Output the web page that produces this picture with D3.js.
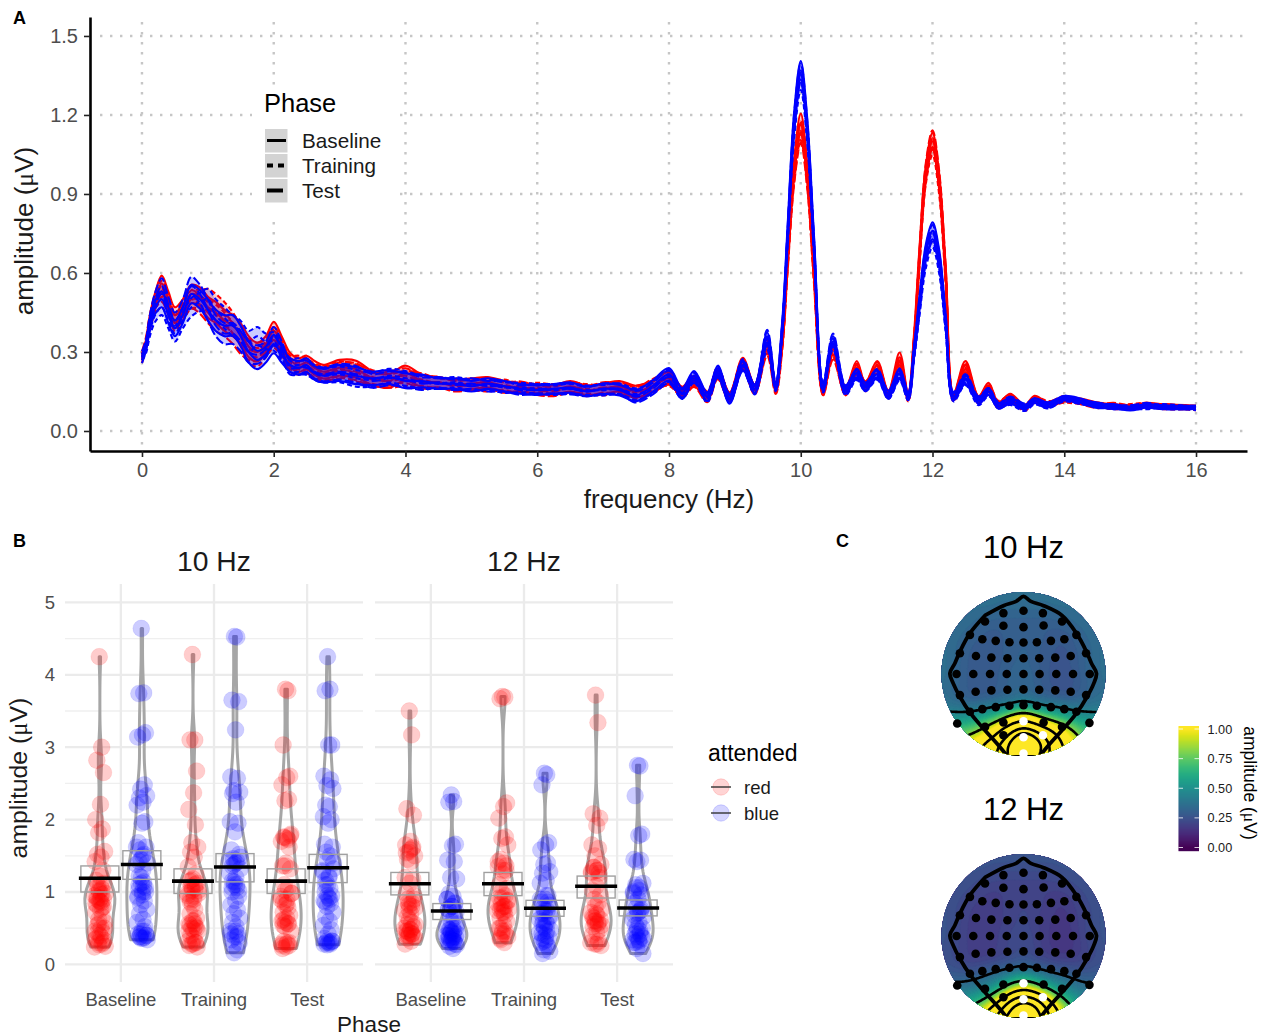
<!DOCTYPE html>
<html lang="en">
<head>
<meta charset="UTF-8">
<title>Spectra, amplitudes and topographies</title>
<script src="https://d3js.org/d3.v7.min.js"></script>
<style>
  html, body { margin: 0; background: #fff; }
  svg { display: block; font-family: "Liberation Sans", Arial, sans-serif; }
</style>
</head>
<body>
<svg id="fig" width="1264" height="1036"></svg>
<script>
// ---- panel A: spectra ----
const freqs = [0,.06,.12,.2,.3,.4,.5,.62,.75,.88,
  1,1.12,1.25,1.38,1.5,1.62,1.75,1.88,2,2.12,
  2.25,2.38,2.5,2.62,2.75,3,3.25,3.5,
  3.75,4,4.25,4.5,4.75,5,5.25,5.5,5.75,6,
  6.25,6.5,6.75,7,7.25,7.5,7.75,8,
  8.2,8.38,8.58,8.74,8.92,9.12,9.3,9.49,
  9.62,9.72,9.8,9.9,10,10.1,10.2,10.34,
  10.49,10.68,10.85,10.98,11.16,11.33,
  11.5,11.63,11.72,11.8,11.9,12,12.1,12.2,
  12.32,12.5,12.7,12.85,13,13.18,
  13.4,13.55,13.75,14,14.25,14.5,14.75,15,15.25,15.5,16];
const redBaseline = [.27,.33,.42,.50,.56,.50,.44,.47,.52,.51,
  .47,.45,.42,.40,.37,.32,.30,.33,.38,.33,
  .27,.25,.26,.24,.225,.24,.235,.20,
  .19,.22,.19,.185,.175,.18,.185,.17,.165,.16,
  .155,.17,.155,.16,.17,.15,.17,.20,
  .15,.19,.13,.22,.13,.26,.16,.33,
  .165,.35,.65,1.0,1.17,.98,.62,.15,
  .31,.15,.25,.17,.25,.14,
  .28,.13,.35,.66,.98,1.10,.95,.6,
  .13,.25,.12,.17,.10,.13,
  .09,.125,.10,.12,.115,.10,.095,.09,.10,.095,.09];
const redTraining = [.28,.32,.40,.48,.54,.49,.42,.45,.50,.50,
  .50,.48,.45,.41,.36,.30,.28,.31,.35,.31,
  .26,.26,.25,.23,.22,.235,.22,.205,
  .19,.20,.195,.18,.18,.175,.17,.175,.16,.165,
  .16,.165,.16,.155,.165,.145,.175,.195,
  .15,.195,.135,.225,.125,.255,.155,.32,
  .16,.34,.64,.98,1.14,.96,.6,.155,
  .30,.15,.24,.165,.245,.135,
  .26,.125,.33,.64,.97,1.08,.93,.58,
  .125,.235,.115,.165,.105,.125,
  .085,.12,.105,.115,.11,.10,.09,.095,.10,.09,.09];
const redTest = [.29,.34,.42,.49,.52,.47,.41,.46,.50,.48,
  .45,.42,.40,.37,.33,.31,.30,.32,.36,.32,
  .25,.24,.245,.225,.215,.23,.225,.195,
  .20,.21,.185,.185,.17,.175,.18,.165,.17,.155,
  .15,.165,.15,.165,.16,.15,.165,.205,
  .145,.185,.125,.215,.13,.25,.16,.31,
  .155,.33,.63,.97,1.13,.95,.59,.15,
  .29,.155,.23,.175,.235,.14,
  .25,.13,.34,.65,.99,1.11,.96,.6,
  .13,.24,.12,.16,.095,.125,
  .09,.115,.1,.125,.11,.095,.1,.09,.095,.095,.085];
const blueBaseline = [.27,.32,.41,.47,.50,.44,.39,.44,.52,.50,
  .46,.42,.40,.40,.36,.30,.27,.29,.33,.29,
  .25,.24,.25,.22,.21,.22,.21,.20,
  .205,.19,.19,.18,.18,.17,.18,.17,.16,.155,
  .16,.165,.15,.16,.155,.135,.17,.215,
  .145,.21,.13,.23,.12,.25,.16,.35,
  .17,.40,.75,1.18,1.37,1.15,.72,.165,
  .34,.155,.22,.17,.215,.14,
  .22,.135,.30,.48,.68,.76,.66,.42,
  .13,.195,.115,.15,.095,.115,
  .09,.115,.10,.125,.115,.095,.095,.085,.095,.09,.09];
const blueTraining = [.28,.31,.38,.44,.47,.42,.37,.42,.47,.49,
  .50,.46,.43,.40,.38,.34,.36,.34,.34,.30,
  .25,.25,.24,.22,.21,.215,.20,.195,
  .21,.20,.185,.18,.185,.175,.175,.165,.165,.16,
  .155,.16,.155,.155,.16,.14,.165,.21,
  .14,.205,.125,.225,.125,.255,.155,.33,
  .165,.385,.72,1.14,1.33,1.12,.70,.16,
  .33,.15,.21,.165,.21,.135,
  .21,.13,.29,.46,.65,.73,.63,.40,
  .125,.19,.11,.145,.10,.11,
  .085,.11,.095,.12,.11,.1,.09,.09,.09,.095,.085];
const blueTest = [.29,.33,.42,.50,.55,.48,.42,.47,.55,.52,
  .46,.40,.37,.37,.34,.30,.29,.31,.36,.31,
  .24,.24,.24,.225,.215,.225,.215,.19,
  .20,.195,.18,.185,.175,.18,.17,.17,.155,.16,
  .16,.16,.15,.16,.16,.13,.16,.205,
  .14,.20,.13,.22,.125,.245,.16,.36,
  .17,.39,.74,1.17,1.36,1.14,.71,.17,
  .35,.16,.215,.165,.22,.135,
  .215,.13,.30,.47,.67,.75,.65,.41,
  .135,.20,.12,.15,.095,.12,
  .095,.115,.095,.125,.11,.1,.09,.09,.1,.09,.09];
const seBand = [.012,.015,.02,.025,.03,.03,.03,.03,.035,.035,
  .04,.04,.04,.04,.038,.04,.035,.03,.035,.03,
  .026,.026,.026,.026,.026,.03,.032,.026,
  .026,.028,.024,.02,.02,.02,.02,.02,.018,.018,
  .018,.02,.018,.02,.02,.022,.022,.024,
  .018,.018,.016,.018,.016,.018,.016,.024,
  .014,.02,.026,.032,.035,.032,.026,.014,
  .02,.014,.016,.014,.016,.013,
  .018,.013,.02,.026,.03,.032,.03,.024,
  .013,.016,.012,.013,.01,.011,
  .009,.009,.009,.008,.008,.008,.007,.007,.007,.007,.006];
const freqTicks = [0,2,4,6,8,10,12,14,16];
const ampTicks = [0,.3,.6,.9,1.2,1.5];
const phases = ["Baseline","Training","Test"];
const phaseDash = {Baseline: null, Training: "5 3", Test: "9 3"};

// ---- panel B: single participant amplitudes ----
const attended = ["red","blue"];
const r10Baseline = [4.25,3.0,2.82,2.65,2.21,2.0,1.87,1.82,1.56,1.52,1.48,1.42,1.3,1.22,1.16,1.12,1.08,1.04,1.0,.98,.95,.92,.9,.88,.85,.82,.8,.76,.72,.66,.62,.58,.54,.5,.46,.44,.4,.36,.33,.3,.28,.27,.25,.24,1.1,1.06,1.02,.97,.93,.9,.86,.84,.78,.56,.5,.44,.38,.34,.3];
const b10Baseline = [4.64,3.75,3.74,3.2,3.17,3.14,2.48,2.42,2.33,2.3,2.24,2.2,1.97,1.95,1.68,1.62,1.58,1.52,1.45,1.4,1.38,1.3,1.22,1.2,1.14,1.1,1.06,1.0,.94,.88,.82,.76,.7,.62,.58,.52,.46,.42,.4,.38,.37,.36,.34,1.62,1.5,1.42,1.12,1.08,1.04,1.0,.96,.92,.46,.42,.4,.38,.36];
const r10Training = [4.28,3.1,3.1,2.67,2.37,2.14,1.93,1.68,1.62,1.55,1.48,1.35,1.25,1.18,1.15,1.12,1.08,1.05,1.02,.98,.95,.9,.86,.82,.76,.7,.64,.6,.56,.52,.5,.46,.4,.36,.32,.3,.28,.26,.24,1.16,1.1,1.06,1.02,.98,.94,.9,.6,.56,.54,.5,.48,.46,.3,.28];
const b10Training = [4.53,4.52,3.65,3.63,3.24,2.59,2.57,2.4,2.38,2.36,2.24,1.97,1.95,1.83,1.58,1.52,1.46,1.42,1.38,1.32,1.26,1.2,1.15,1.1,1.06,1.0,.94,.88,.82,.76,.7,.64,.58,.52,.46,.42,.38,.34,.3,.26,.2,.16,1.48,1.44,1.4,1.36,1.14,1.1,1.06,1.02,.46,.42,.38];
const r10Test = [3.8,3.78,3.03,2.6,2.58,2.48,2.28,2.26,1.8,1.76,1.74,1.7,1.62,1.4,1.36,1.32,1.1,1.06,1.02,.98,.94,.9,.86,.82,.78,.72,.68,.64,.6,.56,.52,.46,.32,.3,.28,.26,.24,.22,1.78,1.75,1.72,1.36,.98,.9,.84,.62,.58,.56,.54,.3,.28,.26];
const b10Test = [4.25,3.8,3.78,3.03,3.03,2.6,2.55,2.47,2.43,2.2,2.18,2.04,2.0,1.95,1.66,1.62,1.55,1.5,1.44,1.4,1.3,1.22,1.16,1.1,1.05,1.0,.95,.92,.88,.84,.8,.72,.66,.6,.54,.48,.42,.36,.32,.3,.28,.27,1.32,1.28,1.2,1.1,.95,.9,.86,.32,.3,.28,.3,.32];
const r12Baseline = [3.5,3.17,2.15,2.06,1.7,1.65,1.6,1.55,1.5,1.45,1.42,1.2,1.18,1.12,.98,.95,.9,.85,.82,.78,.75,.7,.66,.62,.58,.55,.52,.48,.46,.42,.4,.38,.36,.32,.28,1.62,1.58,1.54,.9,.85,.8,.76,.55,.5,.48,.46,.44,.42,.4,.38];
const b12Baseline = [2.34,2.25,2.24,1.66,1.64,1.44,1.42,1.2,1.18,.98,.94,.9,.85,.8,.76,.72,.68,.64,.6,.56,.52,.5,.48,.45,.42,.4,.38,.36,.34,.32,.3,.27,.25,.22,.9,.84,.8,.76,.5,.48,.46,.44,.42,.4,.38,.36,.34,.32,.3,.28];
const r12Training = [3.7,3.69,3.67,2.23,2.18,2.02,1.76,1.74,1.65,1.45,1.4,1.35,1.3,1.25,1.1,1.05,1.0,.95,.92,.88,.84,.8,.76,.72,.68,.64,.6,.55,.5,.46,.42,.38,.34,.3,1.42,1.36,1.3,.92,.88,.84,.8,.78,.76,.74,.72,.5,.46,.42,.36];
const b12Training = [2.64,2.62,2.48,1.68,1.65,1.58,1.4,1.38,1.28,1.26,1.16,1.12,.95,.9,.86,.82,.78,.74,.7,.66,.62,.58,.55,.5,.46,.42,.38,.34,.3,.25,.2,.18,.15,.95,.9,.86,.74,.7,.66,.6,.56,.52,.48,.44,.4,.36,.32,.28];
const r12Test = [3.72,3.34,2.08,2.02,1.92,1.65,1.6,1.5,1.38,1.34,1.3,1.26,1.2,1.08,1.02,.96,.9,.85,.8,.76,.72,.68,.64,.6,.56,.52,.48,.44,.4,.32,.28,.26,1.34,1.3,1.28,1.26,.7,.66,.62,.6,.58,.56,.54,.3,.28];
const b12Test = [2.75,2.74,2.33,1.8,1.78,1.45,1.44,1.42,1.12,1.1,1.06,1.0,.96,.9,.85,.8,.78,.74,.7,.66,.62,.58,.54,.5,.46,.42,.38,.34,.3,.27,.22,.15,1.06,1.02,.98,.76,.72,.68,.5,.46,.42,.38,.36,.34,.32,.3];
// mean and mean +/- se, order: 10 Hz r/b per phase, then 12 Hz
const groupMeans = [1.19,1.38,1.15,1.345,1.15,1.335, 1.115,.737,1.115,.775,1.08,.78];
const groupHigh  = [1.36,1.57,1.32,1.53,1.32,1.52, 1.27,.84,1.27,.885,1.22,.89];
const groupLow   = [1.0,1.175,.98,1.14,.98,1.13, .96,.62,.95,.665,.917,.67];
// horizontal jitter as a fraction of the jitter width, repeats per group
const jitterShare = [-.1,.3,-.5,.6,.1,-.7,.4,-.2,.8,-.4,.2,-.8,.5,0,-.6,.7,-.3,.35,-.15,.9,-.9,.15,-.45];
const amplitudeTicks = [0,1,2,3,4,5];
const minorTicks = [.5,1.5,2.5,3.5,4.5];

// ---- panel C: topographies, rows from front (+1) to back (-1), step .125 ----
const grid10 = [
  [.37,.37,.37,.37,.37,.37,.37,.37,.37,.37,.37,.37,.37,.37,.37,.37,.37],
  [.37,.37,.37,.37,.37,.37,.36,.36,.36,.36,.36,.37,.37,.37,.37,.37,.37],
  [.37,.37,.37,.36,.35,.34,.33,.33,.33,.33,.33,.34,.35,.36,.37,.37,.37],
  [.37,.37,.36,.34,.32,.31,.31,.31,.31,.31,.31,.31,.32,.34,.36,.37,.37],
  [.37,.36,.34,.32,.30,.29,.30,.31,.31,.31,.30,.29,.29,.31,.34,.36,.37],
  [.37,.35,.33,.30,.29,.29,.30,.31,.32,.31,.30,.28,.28,.30,.33,.35,.37],
  [.37,.35,.32,.29,.28,.29,.30,.31,.33,.31,.29,.28,.27,.29,.32,.35,.37],
  [.37,.35,.31,.29,.28,.29,.30,.32,.33,.31,.29,.27,.27,.29,.32,.35,.37],
  [.37,.35,.31,.29,.28,.29,.31,.33,.34,.32,.29,.27,.26,.28,.32,.35,.37],
  [.36,.34,.31,.29,.28,.29,.31,.33,.34,.32,.29,.27,.26,.28,.31,.34,.36],
  [.37,.34,.31,.29,.29,.30,.32,.34,.36,.33,.31,.29,.28,.29,.32,.35,.37],
  [.40,.38,.36,.35,.37,.40,.42,.45,.50,.45,.41,.40,.38,.37,.38,.39,.40],
  [.48,.48,.48,.50,.54,.60,.70,.84,.95,.84,.70,.62,.56,.50,.48,.47,.47],
  [.60,.62,.64,.68,.76,.90,1.1,1.4,1.6,1.4,1.15,1.0,.85,.72,.62,.58,.55],
  [.72,.76,.80,.88,1.0,1.2,1.6,2.1,2.5,2.2,1.8,1.4,1.1,.9,.75,.68,.62],
  [.9,.95,1.0,1.1,1.3,1.6,2.0,2.4,2.7,2.5,2.1,1.6,1.25,1.0,.85,.75,.7],
  [1.0,1.05,1.1,1.2,1.4,1.7,2.0,2.3,2.5,2.3,2.0,1.6,1.3,1.1,.95,.85,.8]
];
const grid12 = [
  [.27,.27,.27,.27,.27,.27,.27,.27,.27,.27,.27,.27,.27,.27,.27,.27,.27],
  [.27,.27,.27,.27,.27,.26,.26,.26,.26,.26,.26,.26,.27,.27,.27,.27,.27],
  [.27,.27,.27,.26,.25,.24,.23,.23,.23,.23,.23,.24,.25,.26,.27,.27,.27],
  [.27,.27,.26,.24,.22,.21,.21,.21,.21,.21,.21,.21,.22,.24,.26,.27,.27],
  [.27,.26,.24,.22,.20,.19,.20,.21,.21,.21,.20,.19,.19,.21,.24,.26,.27],
  [.27,.25,.23,.20,.19,.19,.20,.21,.22,.21,.20,.18,.18,.20,.23,.25,.27],
  [.27,.25,.22,.19,.18,.19,.20,.21,.23,.21,.19,.18,.17,.19,.22,.25,.27],
  [.27,.25,.21,.19,.18,.19,.20,.22,.23,.21,.19,.17,.17,.19,.22,.25,.27],
  [.27,.25,.21,.19,.18,.19,.21,.23,.24,.22,.19,.17,.16,.18,.22,.25,.27],
  [.26,.24,.21,.19,.18,.19,.21,.23,.24,.22,.19,.17,.16,.18,.21,.24,.26],
  [.26,.24,.21,.19,.19,.20,.22,.24,.26,.23,.21,.19,.18,.19,.21,.24,.26],
  [.27,.26,.24,.23,.25,.27,.29,.31,.33,.31,.28,.26,.25,.24,.24,.26,.27],
  [.31,.30,.30,.31,.34,.38,.44,.52,.58,.52,.44,.39,.35,.32,.30,.30,.30],
  [.38,.38,.38,.40,.44,.52,.66,.84,.95,.84,.68,.56,.47,.40,.37,.36,.35],
  [.48,.48,.50,.54,.62,.78,1.05,1.4,1.6,1.45,1.15,.85,.66,.52,.45,.42,.40],
  [.6,.62,.66,.74,.9,1.15,1.5,2.0,2.3,2.1,1.6,1.15,.85,.66,.55,.48,.45],
  [.72,.76,.82,.92,1.1,1.4,1.8,2.2,2.4,2.2,1.8,1.3,1.0,.78,.62,.55,.5]
];
const contourLevels10 = [.45,.85,1.3,1.8,2.15];
const contourLevels12 = [.34,.7,1.1,1.5,1.9];
// electrode layout and head outline, head radius = 245 units
const elecX = [-60,0,58,-115,115,-60,0,60,-160,158,-123,-83,-42,0,40,82,122,-190,187,-142,-96,-48,0,47,95,141,-200,-150,-100,-50,0,48,98,148,198,-190,187,-143,-96,-48,0,47,95,141,-123,-83,-42,0,40,82,122,-160,158,-115,115,-60,60,-198,197,-60];
const elecY = [182,189,182,157,157,144,140,145,117,117,104,99,95,94,95,99,104,62,62,54,49,47,47,47,49,54,0,0,0,0,0,0,0,0,0,-63,-63,-53,-49,-47,-46,-47,-49,-53,-105,-99,-95,-93,-95,-99,-105,-113,-113,-158,-158,-145,-145,-148,-146,-183];
const whiteX = [0,58,0,0];
const whiteY = [-141,-183,-189,-238];
const headX = [-115,-60,-22,0,22,60,115,158,188,203,218,210,190,158,120,75,50];
const headY = [175,204,217,232,217,204,175,122,67,32,2,-28,-68,-118,-163,-213,-243];
const headBackX = [-50,-75,-120,-158,-190,-210,-220,-205,-190,-160,-115];
const headBackY = [-243,-213,-163,-118,-68,-28,2,32,67,122,175];
const barTicks = [0,.25,.5,.75,1];

const grey = "#4d4d4d";
const svg = d3.select("#fig");
const muText = (sel, label) => {
  sel.append("tspan").text(label + " (");
  sel.append("tspan").attr("font-family", "Liberation Serif").text("μ");
  sel.append("tspan").text("V)");
};
const styleTicks = (g, size) => g.selectAll("text")
  .attr("font-size", size).attr("fill", grey).attr("font-family", "Liberation Sans");

// ---------- A ----------
const xA = d3.scaleLinear().domain([-.789, 16.774]).range([90, 1247]);
const yA = d3.scaleLinear().domain([-.076, 1.572]).range([451, 17]);
const gA = svg.append("g");

const gridDots = {stroke: "#c6c6c6", width: 2.4, dash: "2.4 7.6"};
gA.append("g").selectAll("line").data(ampTicks).join("line")
  .attr("x1", 100).attr("x2", 1247)
  .attr("y1", d => yA(d)).attr("y2", d => yA(d))
  .attr("stroke", gridDots.stroke).attr("stroke-width", gridDots.width).attr("stroke-dasharray", gridDots.dash);
gA.append("g").selectAll("line").data(freqTicks).join("line")
  .attr("x1", d => xA(d)).attr("x2", d => xA(d))
  .attr("y1", 22).attr("y2", 451)
  .attr("stroke", gridDots.stroke).attr("stroke-width", gridDots.width).attr("stroke-dasharray", gridDots.dash);

const lineA = d3.line().curve(d3.curveCatmullRom.alpha(.5));
const spectra = [
  {colour: "#ff0000", phase: "Baseline", vals: redBaseline},
  {colour: "#ff0000", phase: "Training", vals: redTraining},
  {colour: "#ff0000", phase: "Test", vals: redTest},
  {colour: "#0000ff", phase: "Baseline", vals: blueBaseline},
  {colour: "#0000ff", phase: "Training", vals: blueTraining},
  {colour: "#0000ff", phase: "Test", vals: blueTest}
];
spectra.forEach(s => {
  const g = gA.append("g");
  const area = d3.area().curve(d3.curveCatmullRom.alpha(.5))
    .x((d, i) => xA(freqs[i]))
    .y0((d, i) => yA(d - seBand[i]))
    .y1((d, i) => yA(d + seBand[i]));
  g.append("path").attr("d", area(s.vals)).attr("fill", s.colour).attr("fill-opacity", .2);
  [-1, 0, 1].forEach(side => {
    g.append("path")
      .attr("d", lineA(s.vals.map((d, i) => [xA(freqs[i]), yA(d + side * seBand[i])])))
      .attr("fill", "none").attr("stroke", s.colour).attr("stroke-width", 2.1)
      .attr("stroke-dasharray", phaseDash[s.phase]);
  });
});

const axLeftA = gA.append("g").attr("transform", "translate(90,0)")
  .call(d3.axisLeft(yA).tickValues(ampTicks).tickFormat(d3.format(".1f")).tickSize(6).tickSizeOuter(0));
const axBottomA = gA.append("g").attr("transform", "translate(0,451)")
  .call(d3.axisBottom(xA).tickValues(freqTicks).tickSize(6).tickSizeOuter(0));
[axLeftA, axBottomA].forEach(a => {
  a.select(".domain").attr("stroke", "#000").attr("stroke-width", 2.6);
  a.selectAll("line").attr("stroke", "#222").attr("stroke-width", 1.6);
  styleTicks(a, 20);
});
axLeftA.selectAll("text").attr("x", -12);
axBottomA.selectAll("text").attr("y", 12);

gA.append("text").attr("x", 669).attr("y", 508).attr("text-anchor", "middle")
  .attr("font-size", 26).attr("fill", "#1a1a1a").text("frequency (Hz)");
gA.append("text").attr("transform", "translate(33,231) rotate(-90)").attr("text-anchor", "middle")
  .attr("font-size", 26).attr("fill", "#1a1a1a").call(muText, "amplitude");

// legend of the line types
const legA = gA.append("g");
legA.append("rect").attr("x", 252).attr("y", 85).attr("width", 145).attr("height", 133).attr("fill", "#fff");
legA.append("text").attr("x", 264).attr("y", 112).attr("font-size", 25.5).attr("fill", "#000").text("Phase");
phases.forEach((p, i) => {
  const yy = 140.5 + i * 25;
  legA.append("rect").attr("x", 265).attr("y", yy - 11.5).attr("width", 22.5).attr("height", 23.5).attr("fill", "#d3d3d3");
  legA.append("line").attr("x1", 267).attr("x2", p === "Test" ? 283 : 286).attr("y1", yy).attr("y2", yy)
    .attr("stroke", "#000").attr("stroke-width", p === "Baseline" ? 3 : 4).attr("stroke-dasharray", p === "Training" ? "6 5" : null);
  legA.append("text").attr("x", 302).attr("y", yy + 7.5).attr("font-size", 20.7).attr("fill", "#1a1a1a").text(p);
});

// ---------- B ----------
const yB = d3.scaleLinear().domain([-.243, 5.254]).range([982, 584]);
const bands = d3.scaleBand().domain(attended).range([-42, 42]);
const facets = [
  {title: "10 Hz", x0: 65, groups: [r10Baseline, b10Baseline, r10Training, b10Training, r10Test, b10Test], start: 0},
  {title: "12 Hz", x0: 375, groups: [r12Baseline, b12Baseline, r12Training, b12Training, r12Test, b12Test], start: 6}
];
const colourOf = {red: "#ff0000", blue: "#0000ff"};
const gB = svg.append("g");

// gaussian kernel density, ggplot style violin outline
function violinPath(vals, cx) {
  const dev = d3.deviation(vals);
  const sorted = vals.slice().sort(d3.ascending);
  const iqr = d3.quantile(sorted, .75) - d3.quantile(sorted, .25);
  const bw = .9 * Math.min(dev, iqr / 1.34) * Math.pow(vals.length, -.2);
  const [lo, hi] = d3.extent(vals);
  const steps = d3.range(0, 61).map(i => lo + (hi - lo) * i / 60);
  const dens = steps.map(v => d3.sum(vals, d => Math.exp(-.5 * ((v - d) / bw) ** 2)));
  const w = d3.scaleLinear().domain([0, d3.max(dens)]).range([0, 15]);
  const pts = steps.map((v, i) => [cx - w(dens[i]), yB(v)])
    .concat(steps.map((v, i) => [cx + w(dens[i]), yB(v)]).reverse());
  return d3.line().curve(d3.curveLinearClosed)(pts);
}

facets.forEach(f => {
  const g = gB.append("g");
  const xB = d3.scaleBand().domain(phases).range([f.x0 + 9.3, f.x0 + 288.7]);
  const x0 = f.x0, x1 = f.x0 + 298;
  g.selectAll(".minor").data(minorTicks).join("line").attr("class", "minor")
    .attr("x1", x0).attr("x2", x1).attr("y1", d => yB(d)).attr("y2", d => yB(d))
    .attr("stroke", "#efefef").attr("stroke-width", 1.3);
  g.selectAll(".major").data(amplitudeTicks).join("line").attr("class", "major")
    .attr("x1", x0).attr("x2", x1).attr("y1", d => yB(d)).attr("y2", d => yB(d))
    .attr("stroke", "#ebebeb").attr("stroke-width", 2.3);
  g.selectAll(".vert").data(phases).join("line").attr("class", "vert")
    .attr("x1", d => xB(d) + xB.bandwidth() / 2).attr("x2", d => xB(d) + xB.bandwidth() / 2)
    .attr("y1", 584).attr("y2", 982).attr("stroke", "#ebebeb").attr("stroke-width", 2.3);

  const groupInfo = f.groups.map((vals, i) => {
    const phase = phases[Math.floor(i / 2)], att = attended[i % 2];
    return {vals, att, cx: xB(phase) + xB.bandwidth() / 2 + bands(att) + bands.bandwidth() / 2, k: f.start + i};
  });
  groupInfo.forEach(d => {
    g.append("path").attr("d", violinPath(d.vals, d.cx))
      .attr("fill", "none").attr("stroke", "#a6a6a6").attr("stroke-width", 3).attr("stroke-linejoin", "round");
  });
  groupInfo.forEach(d => {
    g.append("g").selectAll("circle").data(d.vals).join("circle")
      .attr("cx", (v, i) => d.cx + jitterShare[i % jitterShare.length] * 6)
      .attr("cy", v => yB(v)).attr("r", 8.4)
      .attr("fill", colourOf[d.att]).attr("fill-opacity", .2)
      .attr("stroke", colourOf[d.att]).attr("stroke-opacity", .08);
  });
  groupInfo.forEach(d => {
    g.append("rect").attr("x", d.cx - 19).attr("width", 38)
      .attr("y", yB(groupHigh[d.k])).attr("height", yB(groupLow[d.k]) - yB(groupHigh[d.k]))
      .attr("fill", "none").attr("stroke", "#a0a0a0").attr("stroke-width", 1.4);
    g.append("line").attr("x1", d.cx - 21).attr("x2", d.cx + 21)
      .attr("y1", yB(groupMeans[d.k])).attr("y2", yB(groupMeans[d.k]))
      .attr("stroke", "#000").attr("stroke-width", 3.6);
  });
  const ax = g.append("g").attr("transform", "translate(0,982)")
    .call(d3.axisBottom(xB).tickSize(0));
  ax.select(".domain").remove();
  styleTicks(ax, 18.5);
  ax.selectAll("text").attr("y", 11);
  g.append("text").attr("x", (x0 + x1) / 2).attr("y", 571).attr("text-anchor", "middle")
    .attr("font-size", 28.3).attr("fill", "#1a1a1a").text(f.title);
});
const axB = gB.append("g").attr("transform", "translate(62,0)")
  .call(d3.axisLeft(yB).tickValues(amplitudeTicks).tickFormat(d3.format("d")).tickSize(0));
axB.select(".domain").remove();
styleTicks(axB, 18.5);
axB.selectAll("text").attr("x", -7);
gB.append("text").attr("transform", "translate(27,778) rotate(-90)").attr("text-anchor", "middle")
  .attr("font-size", 24.8).attr("fill", "#1a1a1a").call(muText, "amplitude");
gB.append("text").attr("x", 369).attr("y", 1032).attr("text-anchor", "middle")
  .attr("font-size", 22.5).attr("fill", "#1a1a1a").text("Phase");

gB.append("text").attr("x", 708).attr("y", 761).attr("font-size", 23).attr("fill", "#000").text("attended");
attended.forEach((a, i) => {
  const yy = 787 + i * 26;
  gB.append("circle").attr("cx", 721).attr("cy", yy).attr("r", 8.2)
    .attr("fill", colourOf[a]).attr("fill-opacity", .17).attr("stroke", colourOf[a]).attr("stroke-opacity", .15);
  gB.append("line").attr("x1", 711).attr("x2", 731).attr("y1", yy).attr("y2", yy)
    .attr("stroke", "#333").attr("stroke-width", 1.4);
  gB.append("text").attr("x", 744).attr("y", yy + 6.5).attr("font-size", 18.5).attr("fill", "#1a1a1a").text(a);
});

// ---------- C ----------
const gC = svg.append("g");
const fineSize = 140;
function upsample(grid) {
  const rows = grid.map(r => d3.interpolateBasis(r));
  const out = new Array(fineSize * fineSize);
  for (let ix = 0; ix < fineSize; ix++) {
    const tx = ix / (fineSize - 1);
    const col = d3.interpolateBasis(rows.map(r => r(tx)));
    for (let iy = 0; iy < fineSize; iy++) out[iy * fineSize + ix] = col(iy / (fineSize - 1));
  }
  return out;
}
const headPlots = [
  {title: "10 Hz", cy: 674, grid: grid10, levels: contourLevels10, id: "clip10"},
  {title: "12 Hz", cy: 936, grid: grid12, levels: contourLevels12, id: "clip12"}
];
const cx = 1023.5, rHead = 82;
const fills = d3.range(0, 1.0001, .02);
headPlots.forEach(h => {
  const g = gC.append("g");
  g.append("clipPath").attr("id", h.id).append("circle").attr("cx", cx).attr("cy", h.cy).attr("r", rHead);
  const body = g.append("g").attr("clip-path", `url(#${h.id})`);
  const values = upsample(h.grid);
  const sx = d3.scaleLinear().domain([0, fineSize - 1]).range([cx - rHead, cx + rHead]);
  const sy = d3.scaleLinear().domain([0, fineSize - 1]).range([h.cy - rHead, h.cy + rHead]);
  const path = d3.geoPath(d3.geoTransform({point(x, y) { this.stream.point(sx(x - .5), sy(y - .5)); }}));
  const contours = d3.contours().size([fineSize, fineSize]);
  body.append("circle").attr("cx", cx).attr("cy", h.cy).attr("r", rHead).attr("fill", d3.interpolateViridis(.2));
  body.selectAll(".band").data(contours.thresholds(fills)(values)).join("path").attr("class", "band")
    .attr("d", path).attr("fill", d => d3.interpolateViridis(d.value)).attr("stroke", d => d3.interpolateViridis(d.value)).attr("stroke-width", .5);
  body.selectAll(".iso").data(contours.thresholds(h.levels)(values)).join("path").attr("class", "iso")
    .attr("d", path).attr("fill", "none").attr("stroke", "#000").attr("stroke-width", 2.6);

  const hx = d3.scaleLinear().domain([-245, 245]).range([cx - rHead, cx + rHead]);
  const hy = d3.scaleLinear().domain([-245, 245]).range([h.cy + rHead, h.cy - rHead]);
  const headLine = d3.line().curve(d3.curveCatmullRom.alpha(.5));
  const outline = headBackX.concat(headX).map((x, i) => [hx(x), hy(headBackY.concat(headY)[i])]);
  body.append("path").attr("d", headLine(outline)).attr("fill", "none").attr("stroke", "#000").attr("stroke-width", 3.8);

  g.selectAll(".elec").data(elecX).join("circle").attr("class", "elec")
    .attr("cx", d => hx(d)).attr("cy", (d, i) => hy(elecY[i])).attr("r", 4.3).attr("fill", "#000");
  g.selectAll(".hot").data(whiteX).join("circle").attr("class", "hot")
    .attr("cx", d => hx(d)).attr("cy", (d, i) => hy(whiteY[i])).attr("r", 4.3).attr("fill", "#fff");
  g.append("text").attr("x", cx).attr("y", h.cy - 116).attr("text-anchor", "middle")
    .attr("font-size", 31).attr("fill", "#000").text(h.title);
});

// colour bar
const yBar = d3.scaleLinear().domain([0, 1]).range([847.5, 729]);
const gBar = gC.append("g");
gBar.selectAll("rect").data(d3.range(726, 851)).join("rect")
  .attr("x", 1178.5).attr("y", d => d).attr("width", 20.5).attr("height", 1.2)
  .attr("fill", d => d3.interpolateViridis(Math.max(0, Math.min(1, yBar.invert(d + .5)))));
barTicks.forEach(t => {
  gBar.append("line").attr("x1", 1178.5).attr("x2", 1183).attr("y1", yBar(t)).attr("y2", yBar(t)).attr("stroke", "#fff").attr("opacity", .8);
  gBar.append("line").attr("x1", 1194.5).attr("x2", 1199).attr("y1", yBar(t)).attr("y2", yBar(t)).attr("stroke", "#fff").attr("opacity", .8);
  gBar.append("text").attr("x", 1207.5).attr("y", yBar(t) + 4.5).attr("font-size", 12.7).attr("fill", "#1a1a1a").text(d3.format(".2f")(t));
});
gBar.append("text").attr("transform", "translate(1244,783) rotate(90)").attr("text-anchor", "middle")
  .attr("font-size", 17.5).attr("fill", "#000").call(muText, "amplitude");

// panel tags
[["A", 13, 24], ["B", 13, 547], ["C", 836, 547]].forEach(t => {
  svg.append("text").attr("x", t[1]).attr("y", t[2]).attr("font-size", 18).attr("font-weight", "bold").text(t[0]);
});
</script>
</body>
</html>
